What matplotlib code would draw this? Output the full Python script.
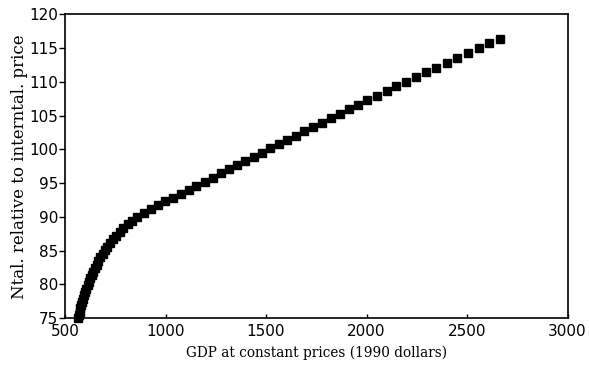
import matplotlib
matplotlib.use("Agg")
import matplotlib.pyplot as plt

# GDP at constant prices (1990 dollars)
gdp = [566, 569.5, 573, 576.5, 580.8, 585.2, 589.8, 595, 600, 606,
       612, 618.5, 625.3, 632.7, 640.2, 648.3, 657, 666.3, 676.3, 687,
       698.3, 711, 724.8, 739.4, 755, 772, 790.5, 811.2, 834.3, 860,
       892.7, 926.8, 962, 999, 1036.6, 1075.4, 1115, 1154, 1194.3, 1234.4,
       1274.4, 1315, 1356, 1396.8, 1438.4, 1479.7, 1521.7, 1563.7, 1605.5, 1648.3,
       1691.3, 1734, 1777.8, 1822.2, 1867.4, 1912.7, 1958.9, 2004.9, 2052.4, 2099.7,
       2147.4, 2196.8, 2246, 2296.5, 2346.8, 2398.6, 2450.4, 2503.7, 2557.5, 2611.5,
       2665]
# National relative to international price
price = [75.00, 75.47, 75.95, 76.43, 76.91, 77.39, 77.88, 78.37, 78.86, 79.36,
         79.86, 80.36, 80.87, 81.38, 81.89, 82.41, 82.93, 83.45, 83.98, 84.51,
         85.04, 85.58, 86.12, 86.66, 87.21, 87.76, 88.31, 88.87, 89.43, 89.99,
         90.56, 91.13, 91.70, 92.28, 92.86, 93.45, 94.04, 94.63, 95.23, 95.83,
         96.43, 97.04, 97.65, 98.27, 98.89, 99.51, 100.14, 100.77, 101.40, 102.04,
         102.69, 103.33, 103.98, 104.64, 105.30, 105.96, 106.63, 107.30, 107.98, 108.66,
         109.34, 110.03, 110.72, 111.42, 112.12, 112.83, 113.54, 114.26, 114.98, 115.70,
         116.35]

x_ticks = [500, 1000, 1500, 2000, 2500, 3000]
y_ticks = [75, 80, 85, 90, 95, 100, 105, 110, 115, 120]
x_label = "GDP at constant prices (1990 dollars)"
y_label = "Ntal. relative to interntal. price"

fig = plt.figure(figsize=(5.89, 3.65), dpi=100)
ax = fig.add_axes([0.1104, 0.1288, 0.9635 - 0.1104, 0.9603 - 0.1288])

ax.plot(gdp, price, linestyle="none", marker="s", markersize=6.4,
        color="black", clip_on=False)

ax.set_xlim(500, 3000)
ax.set_ylim(75, 120)
ax.set_xticks(x_ticks)
ax.set_yticks(y_ticks)

tick_font = {"family": "DejaVu Sans", "size": 11}
ax.set_xticklabels([str(t) for t in x_ticks], fontdict=tick_font)
ax.set_yticklabels([str(t) for t in y_ticks], fontdict=tick_font)

ax.tick_params(axis="y", direction="out", length=4, width=1, pad=1)
ax.tick_params(axis="x", direction="in", length=3, width=1, pad=4)

for s in ax.spines.values():
    s.set_linewidth(1.2)
    s.set_color("black")

ax.set_xlabel(x_label, family="DejaVu Serif", fontsize=9.8, labelpad=5)
ax.set_ylabel(y_label, family="DejaVu Serif", fontsize=12, labelpad=1)

fig.savefig("out.png", dpi=100)
